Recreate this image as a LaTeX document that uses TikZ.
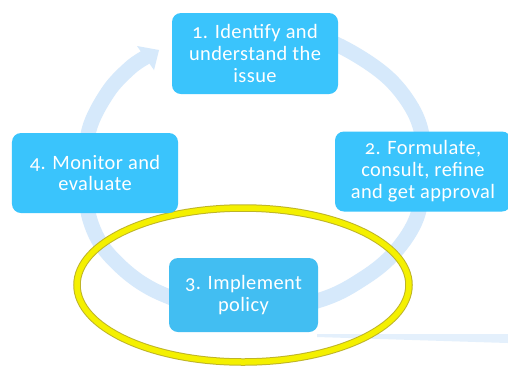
\documentclass[tikz,border=0pt]{standalone}
\usepackage{fontspec}
\setmainfont{Carlito}[Numbers=OldStyle, LetterSpace=2]
\usetikzlibrary{calc}
\definecolor{stepblue}{RGB}{58,196,252}
\definecolor{stepblueb}{RGB}{66,190,242}
\definecolor{ringblue}{RGB}{214,233,251}
\definecolor{trailblue}{RGB}{228,240,252}
\definecolor{hiyellow}{RGB}{244,240,0}
\definecolor{hiedge}{RGB}{190,180,40}
\tikzset{
  x=1bp, y=-1bp,
  stepbox/.style={draw=none, fill=stepblue, rounded corners=9bp, text=white,
    align=center, inner sep=0pt, font=\fontsize{20.5}{22}\selectfont},
  ring/.style={draw=ringblue, line width=15bp},
}
\begin{document}
\begin{tikzpicture}
\useasboundingbox (0,0) rectangle (508,366);
\fill[white] (0,0) rectangle (508,366);

% faint trail leaving the bottom-right
\fill[trailblue] (317,334) -- (508,334) -- (508,343) -- (317,337) -- cycle;

% cycle ring (its gaps sit behind the step boxes)
\coordinate (tip) at (159,50);
\coordinate (wingA) at (137,46);
\coordinate (wingB) at (154,70);
\draw[ring] plot[smooth, tension=0.6] coordinates {
  (255,28) (300,33) (340,46) (385,75) (412,108) (423,140) (423,175)
  (417,217) (395,252) (364,278) (320,300) (243,316) (160,293)
  (112,258) (90,220) (86,175) (89,130) (108,92) (130,68) (146,57)};
\fill[ringblue] (wingA) -- (tip) -- (wingB) -- cycle;

% highlight around step 3
\draw[hiedge, line width=7.5bp] (243,285) ellipse [x radius=166, y radius=77];
\draw[hiyellow, line width=5.5bp] (243,285) ellipse [x radius=166, y radius=77];

% the four steps
\node[stepbox, minimum width=166bp, minimum height=81bp] (s1) at (255,53.5)
  {1. Identify and\\understand the\\issue};
\node[stepbox, minimum width=176bp, minimum height=80bp] (s2) at (423,171.5)
  {2. Formulate,\\consult, refine\\and get approval};
\node[stepbox, fill=stepblueb, minimum width=149bp, minimum height=74bp] (s3) at (243.5,295)
  {3. Implement\\policy};
\node[stepbox, minimum width=166bp, minimum height=80bp] (s4) at (95,173)
  {4. Monitor and\\evaluate};
\end{tikzpicture}
\end{document}
